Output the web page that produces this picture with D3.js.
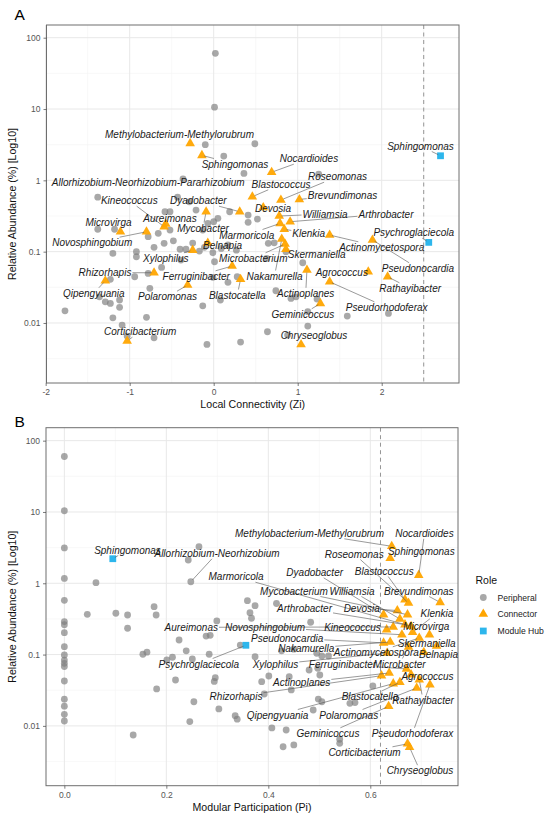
<!DOCTYPE html>
<html><head><meta charset="utf-8">
<script src="https://cdn.jsdelivr.net/npm/d3@7"></script>
<style>
body{margin:0;background:#fff;}
svg{display:block;font-family:"Liberation Sans",Arial,Helvetica,sans-serif;}
</style></head><body>
<svg id="chart" width="550" height="819"></svg>
<script>
// ---------------- DATA ----------------
// Connector nodes (shared by both panels)
const connectorLabelA = ["Methylobacterium-Methylorubrum","Sphingomonas","Nocardioides","Roseomonas","Blastococcus","Brevundimonas","Dyadobacter","Devosia","Kineococcus","Aureimonas","Microvirga","Novosphingobium","Williamsia","Arthrobacter","Marmoricola","Klenkia","Mycobacter","Belnapia","Xylophilus","Microbacterium","Skermaniella","Nakamurella","Actinomycetospora","Pseudonocardia","Agrococcus","Rathayibacter","Pseudorhodoferax","Actinoplanes","Geminicoccus","Chryseoglobus","Corticibacterium","Rhizorhapis","Qipengyuania","Ferruginibacter","Polaromonas","Blastocatella"];
const connectorLabelB = ["Methylobacterium-Methylorubrum","Sphingomonas","Nocardioides","Roseomonas","Blastococcus","Brevundimonas","Dyadobacter","Devosia","Kineococcus","Aureimonas","Microvirga","Novosphingobium","Williamsia","Arthrobacter","Marmoricola","Klenkia","Mycobacterium","Belnapia","Xylophilus","Microbacter","Skermaniella","Nakamurella","Actinomycetospora","Pseudonocardia","Agrococcus","Rathayibacter","Pseudorhodoferax","Actinoplanes","Geminicoccus","Chryseoglobus","Corticibacterium","Rhizorhapis","Qipengyuania","Ferruginibacter","Polaromonas","Blastocatella"];
const connectorZi = [-0.28,-0.14,0.69,0.80,0.46,1.02,0.31,0.59,-0.59,-0.57,-1.11,-0.80,0.78,0.91,0.79,0.84,-0.09,-0.07,-0.25,0.85,0.86,0.81,1.38,1.89,1.84,2.07,1.38,1.11,1.27,1.04,-1.03,-0.71,-1.29,0.22,-0.31,0.32];
const connectorPi = [0.642,0.639,0.695,0.675,0.668,0.737,0.626,0.653,0.632,0.645,0.716,0.662,0.658,0.668,0.680,0.683,0.673,0.730,0.633,0.675,0.705,0.639,0.696,0.626,0.680,0.696,0.717,0.637,0.636,0.677,0.673,0.622,0.645,0.671,0.691,0.658];
const connectorAbund = [3.30,2.24,1.30,0.53,0.59,0.54,0.363,0.415,0.224,0.244,0.190,0.190,0.316,0.263,0.249,0.206,0.363,0.132,0.105,0.128,0.108,0.150,0.171,0.146,0.0523,0.0445,0.0378,0.0552,0.0188,0.0050,0.0056,0.0506,0.0391,0.0628,0.0340,0.0409];

// Module hubs
const hubLabel = ["Sphingomonas","Psychroglaciecola"];
const hubZi = [2.70, 2.56];
const hubPi = [0.095, 0.356];
const hubAbund = [2.21, 0.135];

// Labelled peripheral node
const namedPeriLabelA = ["Allorhizobium-Neorhizobium-Pararhizobium"];
const namedPeriLabelB = ["Allorhizobium-Neorhizobium"];
const namedPeriZi = [-0.365];
const namedPeriPi = [0.248];
const namedPeriAbund = [1.05];

// Unlabelled peripheral nodes: panel A [Zi, abundance]
const peripheralA = [[0.02,60.4],[0.01,10.6],[-0.10,3.16],[0.12,2.19],[0.49,3.26],[0.36,1.25],[-1.38,0.58],[-0.43,0.58],[1.25,1.22],[-0.58,0.363],[-0.52,0.363],[-0.29,0.50],[-0.21,0.383],[0.19,0.363],[0.41,0.326],[0.41,0.258],[0.52,0.286],[-1.38,0.206],[-1.18,0.206],[-1.20,0.0946],[-0.92,0.0998],[-0.92,0.0848],[-0.78,0.162],[-0.71,0.115],[-0.66,0.181],[-0.59,0.131],[-0.52,0.201],[-0.48,0.142],[-0.40,0.108],[-0.33,0.108],[-0.39,0.0762],[-0.25,0.132],[-0.17,0.102],[-0.11,0.115],[-0.07,0.249],[0.00,0.263],[0.05,0.293],[-0.13,0.201],[-0.01,0.0966],[0.01,0.0722],[0.09,0.111],[0.17,0.124],[0.27,0.105],[0.65,0.131],[0.63,0.0805],[-0.62,0.0602],[-0.94,0.0445],[-0.78,0.0496],[-1.23,0.0409],[-0.76,0.0306],[-0.01,0.0436],[0.17,0.0371],[0.28,0.0445],[-1.29,0.0198],[-1.23,0.0188],[-1.12,0.0210],[-1.12,0.0166],[-1.77,0.0148],[-1.20,0.0118],[-0.80,0.0120],[-0.13,0.0174],[0.08,0.0210],[-1.09,0.00935],[-1.03,0.00655],[-0.71,0.00620],[-0.08,0.00501],[0.32,0.00540],[0.64,0.00753],[-1.36,0.0233],[0.72,0.133],[1.06,0.0699],[0.74,0.0283],[0.92,0.0221],[0.98,0.0233],[1.23,0.0216],[1.12,0.0144],[1.59,0.0125],[2.08,0.0136],[1.12,0.00904],[0.88,0.00677],[0.86,0.0997]];

// Unlabelled peripheral nodes: panel B [Pi, abundance]
const peripheralB = [[0,60.0],[0,10.4],[0,3.13],[0,1.17],[0,0.577],[0,0.29],[0,0.262],[0,0.203],[0,0.129],[0,0.0986],[0,0.0838],[0,0.0755],[0,0.068],[0,0.0426],[0,0.0237],[0,0.0189],[0,0.0145],[0,0.0117],
[0.062,1.02],[0.264,3.26],[0.243,2.12],[0.176,0.47],[0.359,0.57],[0.374,0.485],[0.416,0.52],[0.045,0.367],[0.101,0.38],[0.124,0.359],[0.124,0.234],[0.18,0.359],[0.299,0.296],[0.278,0.182],[0.286,0.186],[0.225,0.160],[0.239,0.113],[0.284,0.101],[0.212,0.0917],[0.251,0.0868],[0.154,0.101],[0.162,0.108],[0.201,0.084],[0.218,0.044],[0.296,0.0474],[0.294,0.042],[0.181,0.033],[0.254,0.0218],[0.303,0.0173],[0.246,0.0115],[0.335,0.0139],[0.339,0.0124],[0.407,0.00935],[0.135,0.00745],[0.345,0.136],[0.374,0.0935],[0.387,0.0417],[0.401,0.0501],[0.392,0.028],[0.364,0.387],[0.367,0.323],[0.483,0.284],[0.441,0.049],[0.501,0.0517],[0.445,0.0319],[0.426,0.113],[0.45,0.119],[0.48,0.0608],[0.495,0.104],[0.505,0.0955],[0.518,0.0955],[0.497,0.0643],[0.498,0.0238],[0.505,0.0218],[0.56,0.0207],[0.57,0.0212],[0.488,0.0167],[0.435,0.00875],[0.429,0.0051],[0.45,0.0054],[0.54,0.00649],[0.54,0.0057],[0.605,0.0363]];

// Axis ticks
const ziTicks = [-2,-1,0,1,2];
const piTicks = [0,0.2,0.4,0.6];
const piTickLabels = ["0.0","0.2","0.4","0.6"];
const abundTicks = [0.01,0.1,1,10,100];
const abundTickLabels = ["0.01","0.1","1","10","100"];
const roleNames = ["Peripheral","Connector","Module Hub"];
const ziThreshold = 2.5;
const piThreshold = 0.62;

// ---------------- LAYOUT (label placement, px) ----------------
const connLabelPosA = [[179.5,134],[235,164],[309,158.7],[337.5,176.7],[281,184.3],[342.5,195],[198.3,200.7],[273,208.3],[129.3,200.7],[170,218.5],[108.5,222.7],[92.2,242.7],[325,214],[386,214],[246.7,235],[308.7,233.3],[203,228],[222.5,245],[165.8,258.3],[253.3,258.3],[316.7,254],[274.5,276],[381.7,247.3],[418,268.3],[341.8,272.7],[410.2,288.3],[386.7,307.3],[305.7,293.3],[302.8,314.3],[314,335.7],[140.2,331.7],[105,272.7],[93.8,293.3],[196.2,276.3],[167.5,296.7],[237.3,295]];
const connLabelPosB = [[309.5,533.3],[421.3,551.7],[424.5,533.3],[354.2,554],[384.2,571],[418.8,591],[314.7,572.3],[361.7,608.3],[352.5,627.3],[191.3,627.3],[426.3,626],[265,627.3],[352,591],[304.5,608.3],[236,576.7],[437,613.3],[294,591],[438.5,654],[275.5,664.3],[399.5,664],[426.7,643],[306.2,648.5],[376.3,652.3],[287.2,638],[427.5,676],[423,700],[412.5,733.3],[301.7,682.7],[328,733.3],[420,770.7],[364.5,752.3],[236,696.7],[277.5,715],[342.5,664.3],[348.7,715],[370,696.7]];
const hubLabelPosA = [[420.5,146],[413.7,232.7]];
const hubLabelPosB = [[127.5,550],[198.8,664]];
const namedPeriLabelPosA = [[148.2,182.7]];
const namedPeriLabelPosB = [[217,553.3]];

const COL = {peri:"#7f7f7f", conn:"#FFA500", hub:"#2DB6EC"};
const svg = d3.select("#chart");
svg.append("rect").attr("width",550).attr("height",819).attr("fill","#fff");

const triSym = d3.symbol().type(d3.symbolTriangle).size(40);
const sqSym = d3.symbol().type(d3.symbolSquare).size(46);

function drawPanel(o){
  const g = svg.append("g");
  const x = o.x, y = o.y;
  const [L,R] = x.range(); const [B,T] = y.range();
  // grid
  const grid = g.append("g");
  o.xMinor.forEach(v=>grid.append("line").attr("x1",x(v)).attr("x2",x(v)).attr("y1",T).attr("y2",B).attr("stroke","#f3f3f3").attr("stroke-width",0.6));
  o.yMinor.forEach(v=>grid.append("line").attr("x1",L).attr("x2",R).attr("y1",y(v)).attr("y2",y(v)).attr("stroke","#f3f3f3").attr("stroke-width",0.6));
  o.xTicks.forEach(v=>grid.append("line").attr("x1",x(v)).attr("x2",x(v)).attr("y1",T).attr("y2",B).attr("stroke","#e8e8e8").attr("stroke-width",1));
  abundTicks.forEach(v=>grid.append("line").attr("x1",L).attr("x2",R).attr("y1",y(v)).attr("y2",y(v)).attr("stroke","#e8e8e8").attr("stroke-width",1));
  // threshold
  g.append("line").attr("x1",x(o.thr)).attr("x2",x(o.thr)).attr("y1",T).attr("y2",B)
    .attr("stroke","#8a8a8a").attr("stroke-width",0.9).attr("stroke-dasharray","4,3.5");
  // points
  g.append("g").selectAll("circle").data(o.peri).join("circle")
    .attr("cx",d=>x(d[0])).attr("cy",d=>y(d[1])).attr("r",3.4)
    .attr("fill",COL.peri).attr("fill-opacity",0.68);
  g.append("g").selectAll("circle").data(o.named).join("circle")
    .attr("cx",d=>x(d.x)).attr("cy",d=>y(d.ab)).attr("r",3.4)
    .attr("fill",COL.peri).attr("fill-opacity",0.68);
  g.append("g").selectAll("path").data(o.conn).join("path")
    .attr("d",triSym).attr("transform",d=>`translate(${x(d.x)},${y(d.ab)})`)
    .attr("fill",COL.conn).attr("fill-opacity",0.95);
  g.append("g").selectAll("path").data(o.hubs).join("path")
    .attr("d",sqSym).attr("transform",d=>`translate(${x(d.x)},${y(d.ab)})`)
    .attr("fill",COL.hub);
  // border
  g.append("rect").attr("x",L).attr("y",T).attr("width",R-L).attr("height",B-T)
    .attr("fill","none").attr("stroke","#6e6e6e").attr("stroke-width",1);
  // axes
  const ax = g.append("g").attr("transform",`translate(0,${B})`)
    .call(d3.axisBottom(x).tickValues(o.xTicks).tickFormat((d,i)=>o.xTickLabels[i]).tickSize(3).tickPadding(3));
  const ay = g.append("g").attr("transform",`translate(${L},0)`)
    .call(d3.axisLeft(y).tickValues(abundTicks).tickFormat((d,i)=>abundTickLabels[i]).tickSize(3).tickPadding(3));
  [ax,ay].forEach(a=>{
    a.select(".domain").remove();
    a.selectAll(".tick line").attr("stroke","#444").attr("stroke-width",0.7);
    a.selectAll(".tick text").attr("fill","#555").attr("font-size","8.5px").attr("font-family","Liberation Sans, Arial, sans-serif");
  });
  // titles
  g.append("text").attr("x",(L+R)/2).attr("y",B+21).attr("text-anchor","middle").attr("dominant-baseline","central")
    .attr("font-size","10.6px").attr("fill","#111").text(o.xTitle);
  g.append("text").attr("transform",`translate(12,${(T+B)/2}) rotate(-90)`).attr("text-anchor","middle").attr("dominant-baseline","central")
    .attr("font-size","10.6px").attr("fill","#111").text("Relative Abundance (%) [Log10]");
  g.append("text").attr("x",o.letterX).attr("y",o.letterY).attr("font-size","15.5px").attr("fill","#000").text(o.letter);
  // labels with segments
  const segG = g.append("g"), labG = g.append("g");
  const labeled = [...o.named, ...o.conn, ...o.hubs];
  labeled.forEach(d=>{
    const px = x(d.x), py = y(d.ab);
    const [cx,cy] = d.pos;
    const t = labG.append("text").attr("x",cx).attr("y",cy).attr("text-anchor","middle").attr("dominant-baseline","central")
      .attr("font-size","10px").attr("font-style","italic").attr("fill","#1a1a1a").text(d.label);
    const w = t.node().getComputedTextLength();
    const hw = w/2+1, hh = 5.5;
    const dx = px-cx, dy = py-cy;
    const tx = Math.abs(dx)>1e-6 ? hw/Math.abs(dx) : Infinity;
    const ty = Math.abs(dy)>1e-6 ? hh/Math.abs(dy) : Infinity;
    const tt = Math.min(tx,ty);
    if (tt>=1) return;
    const ex = cx+tt*dx, ey = cy+tt*dy;
    const len = Math.hypot(px-ex,py-ey);
    if (len < 6) return;
    const sx = px-(dx/Math.hypot(dx,dy))*2.5, sy = py-(dy/Math.hypot(dx,dy))*2.5;
    segG.append("line").attr("x1",sx).attr("y1",sy).attr("x2",ex).attr("y2",ey)
      .attr("stroke","#555").attr("stroke-width",0.6);
  });
}

// Panel A
const xA = d3.scaleLinear().domain([-1.99,2.92]).range([46.5,459]);
const yA = d3.scaleLog().domain([0.00144,150.7]).range([383,25]);
drawPanel({
  x:xA, y:yA, xTicks:ziTicks, xTickLabels:ziTicks.map(String), xMinor:[-1.5,-0.5,0.5,1.5,2.5],
  yMinor:[0.00316,0.0316,0.316,3.16,31.6], thr:ziThreshold, xTitle:"Local Connectivity (Zi)",
  letter:"A", letterX:14.5, letterY:19.5,
  peri:peripheralA,
  named:namedPeriLabelA.map((l,i)=>({label:l,x:namedPeriZi[i],ab:namedPeriAbund[i],pos:namedPeriLabelPosA[i]})),
  conn:connectorLabelA.map((l,i)=>({label:l,x:connectorZi[i],ab:connectorAbund[i],pos:connLabelPosA[i]})),
  hubs:hubLabel.map((l,i)=>({label:l,x:hubZi[i],ab:hubAbund[i],pos:hubLabelPosA[i]}))
});

// Panel B
const xB = d3.scaleLinear().domain([-0.036,0.772]).range([46,458]);
const yB = d3.scaleLog().domain([0.001449,152]).range([785.7,427.7]);
drawPanel({
  x:xB, y:yB, xTicks:piTicks, xTickLabels:piTickLabels, xMinor:[0.1,0.3,0.5,0.7],
  yMinor:[0.00316,0.0316,0.316,3.16,31.6], thr:piThreshold, xTitle:"Modular Participation (Pi)",
  letter:"B", letterX:14.5, letterY:427,
  peri:peripheralB,
  named:namedPeriLabelB.map((l,i)=>({label:l,x:namedPeriPi[i],ab:namedPeriAbund[i],pos:namedPeriLabelPosB[i]})),
  conn:connectorLabelB.map((l,i)=>({label:l,x:connectorPi[i],ab:connectorAbund[i],pos:connLabelPosB[i]})),
  hubs:hubLabel.map((l,i)=>({label:l,x:hubPi[i],ab:hubAbund[i],pos:hubLabelPosB[i]}))
});

// Legend
const lg = svg.append("g");
lg.append("text").attr("x",475.5).attr("y",580).attr("dominant-baseline","central").attr("font-size","10.5px").attr("fill","#111").text("Role");
const keyY = [597.5,614,631];
lg.append("circle").attr("cx",483.3).attr("cy",keyY[0]).attr("r",3.4).attr("fill",COL.peri).attr("fill-opacity",0.68);
lg.append("path").attr("d",triSym).attr("transform",`translate(483.3,${keyY[1]})`).attr("fill",COL.conn);
lg.append("path").attr("d",sqSym).attr("transform",`translate(483.3,${keyY[2]})`).attr("fill",COL.hub);
roleNames.forEach((r,i)=>lg.append("text").attr("x",497.5).attr("y",keyY[i]).attr("dominant-baseline","central")
  .attr("font-size","8.6px").attr("fill","#222").text(r));
</script>
</body></html>
